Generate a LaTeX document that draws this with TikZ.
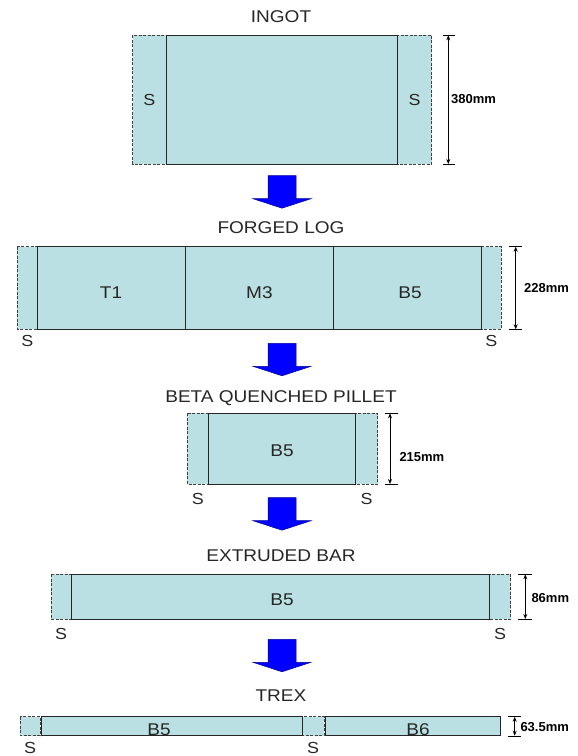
\documentclass[tikz,border=0pt]{standalone}
\usepackage{fontspec}
\setmainfont{Liberation Sans}[FakeStretch=1.12]
\newfontfamily\dimfont{Liberation Sans}
\usetikzlibrary{arrows.meta}
\definecolor{barfill}{RGB}{187,224,227}
\definecolor{flowblue}{RGB}{0,0,255}
\tikzset{flow/.style={x=1pt,y=-1pt,font=\fontsize{17}{17}\selectfont}}
\tikzset{part/.style={fill=barfill,draw=black!85,line width=0.9pt},
         scrap/.style={fill=barfill,draw=black!75,line width=0.9pt,dash pattern=on 3pt off 1.5pt},
         title/.style={anchor=base,inner sep=0pt,text=black!85},
         tag/.style={anchor=base,inner sep=0pt,text=black!85,font=\fontsize{16}{16}\selectfont},
         dimline/.style={{Stealth[length=5pt,width=4pt]}-{Stealth[length=5pt,width=4pt]},line width=0.8pt},
         dimtick/.style={line width=0.7pt},
         dimlabel/.style={anchor=west,inner sep=0pt,font=\dimfont\bfseries\fontsize{13}{13}\selectfont}}
\newcommand{\flowarrow}[2]{% x centre, y top
  \filldraw[fill=flowblue,draw=flowblue!60!black,line width=0.5pt]
    ({#1-14},#2) -- ({#1+14},#2) -- ({#1+14},{#2+23}) -- ({#1+29},{#2+23})
    -- (#1,{#2+32.5}) -- ({#1-29},{#2+23}) -- ({#1-14},{#2+23}) -- cycle;}

\begin{document}
\begin{tikzpicture}[flow]
    \useasboundingbox (0,0) rectangle (578,756);
    % ingot
    \node[title] (tingot) at (281,22.3) {INGOT};
    \draw[scrap] (132.7,35.3) rectangle (166,164);
    \draw[scrap] (397.7,35.3) rectangle (431.7,164);
    \draw[part]  (166,35.3) rectangle (397.7,164);
    \node[tag] (si1) at (149.3,105) {S};
    \node[tag] (si2) at (414.7,105) {S};
    \coordinate (itop) at (448.3,35.3);
    \coordinate (ibot) at (448.3,164);
    \draw[dimline] (itop) -- (ibot);
    \draw[dimtick] (442.7,35.3) -- (455,35.3) (442.7,164) -- (455,164);
    \node[dimlabel] (dingot) at (451,99.3) {380mm};
    \flowarrow{282}{175.7}
    % forged log
    \node[title] (tlog) at (281,233.3) {FORGED LOG};
    \draw[scrap] (17.3,246.7) rectangle (37.3,329.3);
    \draw[scrap] (481.3,246.7) rectangle (501.3,329.3);
    \draw[part]  (37.3,246.7) rectangle (481.3,329.3);
    \draw[part]  (185.7,246.7) -- (185.7,329.3) (333,246.7) -- (333,329.3);
    \node[title] (lt1) at (111,298.3) {T1};
    \node[title] (lm3) at (259.4,298.3) {M3};
    \node[title] (lb5) at (410,298.3) {B5};
    \node[tag] (sl1) at (27.3,346) {S};
    \node[tag] (sl2) at (491.3,346) {S};
    \coordinate (ltop) at (515.7,246.7);
    \coordinate (lbot) at (515.7,329.3);
    \draw[dimline] (ltop) -- (lbot);
    \draw[dimtick] (508.7,246.7) -- (522.3,246.7) (508.7,329.3) -- (522.3,329.3);
    \node[dimlabel] (dlog) at (524,288.3) {228mm};
    \flowarrow{282}{343.3}
    % beta quenched pillet
    \node[title] (tpillet) at (281,402.7) {BETA QUENCHED PILLET};
    \draw[scrap] (187.3,413.3) rectangle (208.3,484);
    \draw[scrap] (355.7,413.3) rectangle (377.7,484);
    \draw[part]  (208.3,413.3) rectangle (355.7,484);
    \node[title] (pb5) at (282,456) {B5};
    \node[tag] (sp1) at (197.8,504) {S};
    \node[tag] (sp2) at (366.7,504) {S};
    \coordinate (ptop) at (390,413.3);
    \coordinate (pbot) at (390,484);
    \draw[dimline] (ptop) -- (pbot);
    \draw[dimtick] (385,413.3) -- (397.7,413.3) (385,484) -- (397.7,484);
    \node[dimlabel] (dpillet) at (399.3,456.7) {215mm};
    \flowarrow{282}{497.7}
    % extruded bar
    \node[title] (tbar) at (281,561.7) {EXTRUDED BAR};
    \draw[scrap] (51,574.3) rectangle (71,619);
    \draw[scrap] (489.7,574.3) rectangle (510.7,619);
    \draw[part]  (71.5,574.3) rectangle (489.7,619);
    \node[title] (bb5) at (282,605) {B5};
    \node[tag] (sb1) at (61,639.3) {S};
    \node[tag] (sb2) at (500.2,639.3) {S};
    \coordinate (btop) at (525.3,574.3);
    \coordinate (bbot) at (525.3,619);
    \draw[dimline] (btop) -- (bbot);
    \draw[dimtick] (518,574.3) -- (532.3,574.3) (518,619) -- (532.3,619);
    \node[dimlabel] (dbar) at (531.3,598.3) {86mm};
    \flowarrow{282}{639.3}
    % trex
    \node[title] (ttrex) at (281,701.7) {TREX};
    \draw[scrap] (20,716.7) rectangle (40,735.7);
    \draw[scrap] (302.3,716.7) rectangle (324,735.7);
    \draw[part]  (41.5,716.7) rectangle (302.3,735.7);
    \draw[part]  (325.3,716.7) rectangle (500.3,735.7);
    \node[title] (tb5) at (159,735.5) {B5};
    \node[title] (tb6) at (418,735.5) {B6};
    \node[tag] (st1) at (30,753.3) {S};
    \node[tag] (st2) at (313.2,753.3) {S};
    \coordinate (ttop) at (514.7,716.7);
    \coordinate (tbot) at (514.7,735.7);
    \draw[dimline] (ttop) -- (tbot);
    \draw[dimtick] (508,716.2) -- (520.7,716.2) (508,736) -- (520.7,736);
    \node[dimlabel] (dtrex) at (520.3,726.7) {63.5mm};
\end{tikzpicture}
\end{document}
